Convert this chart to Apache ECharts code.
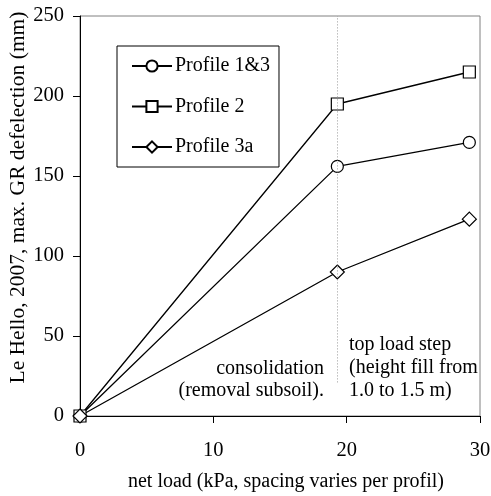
<!DOCTYPE html>
<html>
<head>
<meta charset="utf-8">
<script src="https://cdn.jsdelivr.net/npm/echarts@6/dist/echarts.min.js"></script>
<style>
  html, body { margin: 0; padding: 0; background: #fff; }
  #chart { width: 491px; height: 496px; }
</style>
</head>
<body>
<div id="chart"></div>
<script>
// Net load steps (kPa) and the maximum GR deflection (mm) per profile
const netLoad = [0, 19.3, 29.2];
const profile13 = [0, 156, 171];
const profile2 = [0, 195, 215];
const profile3a = [0, 90, 123];
const seriesNames = ['Profile 1&3', 'Profile 2', 'Profile 3a'];
const xTicks = [0, 10, 20, 30];
const yTicks = [0, 50, 100, 150, 200, 250];
const stepLoad = 19.3;
const stepLineRange = [21, 250];

const FONT = '"Liberation Serif", "Times New Roman", serif';

const chart = echarts.init(document.getElementById('chart'));

function pairs(ys) {
  return netLoad.map((x, i) => [x, ys[i]]);
}

function lineSeries(name, ys, symbol, size) {
  return {
    name: name,
    type: 'line',
    data: pairs(ys),
    symbol: symbol,
    symbolSize: size,
    showAllSymbol: true,
    lineStyle: { color: '#000', width: 1.3 },
    itemStyle: { color: '#fff', borderColor: '#000', borderWidth: 1.2 },
    emphasis: { disabled: true },
    z: 3
  };
}

const series = [
  lineSeries(seriesNames[0], profile13, 'circle', 12),
  lineSeries(seriesNames[1], profile2, 'rect', 12),
  lineSeries(seriesNames[2], profile3a, 'diamond', 14)
];

// Dotted divider marking the top load step
series[0].markLine = {
  silent: true,
  symbol: 'none',
  label: { show: false },
  lineStyle: { color: '#999', type: [1, 2], width: 1 },
  data: [[{ coord: [stepLoad, stepLineRange[0]] }, { coord: [stepLoad, stepLineRange[1]] }]]
};

function note(text, pos) {
  return Object.assign({
    type: 'text',
    style: { text: text, font: '20px ' + FONT, fill: '#000' }
  }, pos);
}

chart.setOption({
  animation: false,
  backgroundColor: '#fff',
  textStyle: { fontFamily: FONT },
  grid: {
    left: 80, right: 11, top: 16, bottom: 80,
    outerBoundsMode: 'none',
    containLabel: false,
    show: true, borderColor: '#808080', borderWidth: 1, backgroundColor: 'transparent'
  },
  legend: {
    orient: 'vertical',
    left: 117, top: 46,
    padding: [10, 9, 10, 14],
    itemGap: 20.5,
    itemWidth: 40, itemHeight: 14,
    borderColor: '#000', borderWidth: 1,
    backgroundColor: '#fff',
    textStyle: { fontFamily: FONT, fontSize: 20, color: '#000', padding: [0, 0, 0, -2] },
    data: seriesNames
  },
  xAxis: {
    type: 'value',
    min: xTicks[0], max: xTicks[xTicks.length - 1], interval: 10,
    name: 'net load (kPa, spacing varies per profil)',
    nameLocation: 'middle',
    nameGap: 56,
    nameTextStyle: { fontFamily: FONT, fontSize: 20, color: '#000', padding: [0, 0, 0, 12] },
    axisLine: { lineStyle: { color: '#000', width: 1 }, onZero: false },
    axisTick: { show: true, length: 7, lineStyle: { color: '#000' } },
    axisLabel: { fontFamily: FONT, fontSize: 20.5, color: '#000', margin: 24 },
    splitLine: { show: false }
  },
  yAxis: {
    type: 'value',
    min: yTicks[0], max: yTicks[yTicks.length - 1], interval: 50,
    axisLine: { show: true, lineStyle: { color: '#000', width: 1 } },
    axisTick: { show: true, length: 7, lineStyle: { color: '#000' } },
    axisLabel: { fontFamily: FONT, fontSize: 20.5, color: '#000', margin: 16 },
    splitLine: { show: false }
  },
  graphic: [
    {
      // vertical axis title
      type: 'text',
      x: 18, y: 197.5,
      rotation: Math.PI / 2,
      style: {
        text: 'Le Hello, 2007, max. GR defelection (mm)',
        font: '21.5px ' + FONT, fill: '#000',
        align: 'center', verticalAlign: 'middle'
      }
    },
    note('consolidation', { right: 491 - 324, top: 359 }),
    note('(removal subsoil).', { right: 491 - 324, top: 381 }),
    note('top load step', { left: 349, top: 335 }),
    note('(height fill from', { left: 349, top: 357.5 }),
    note('1.0 to 1.5 m)', { left: 349, top: 380.5 })
  ],
  series: series
});
</script>
</body>
</html>
